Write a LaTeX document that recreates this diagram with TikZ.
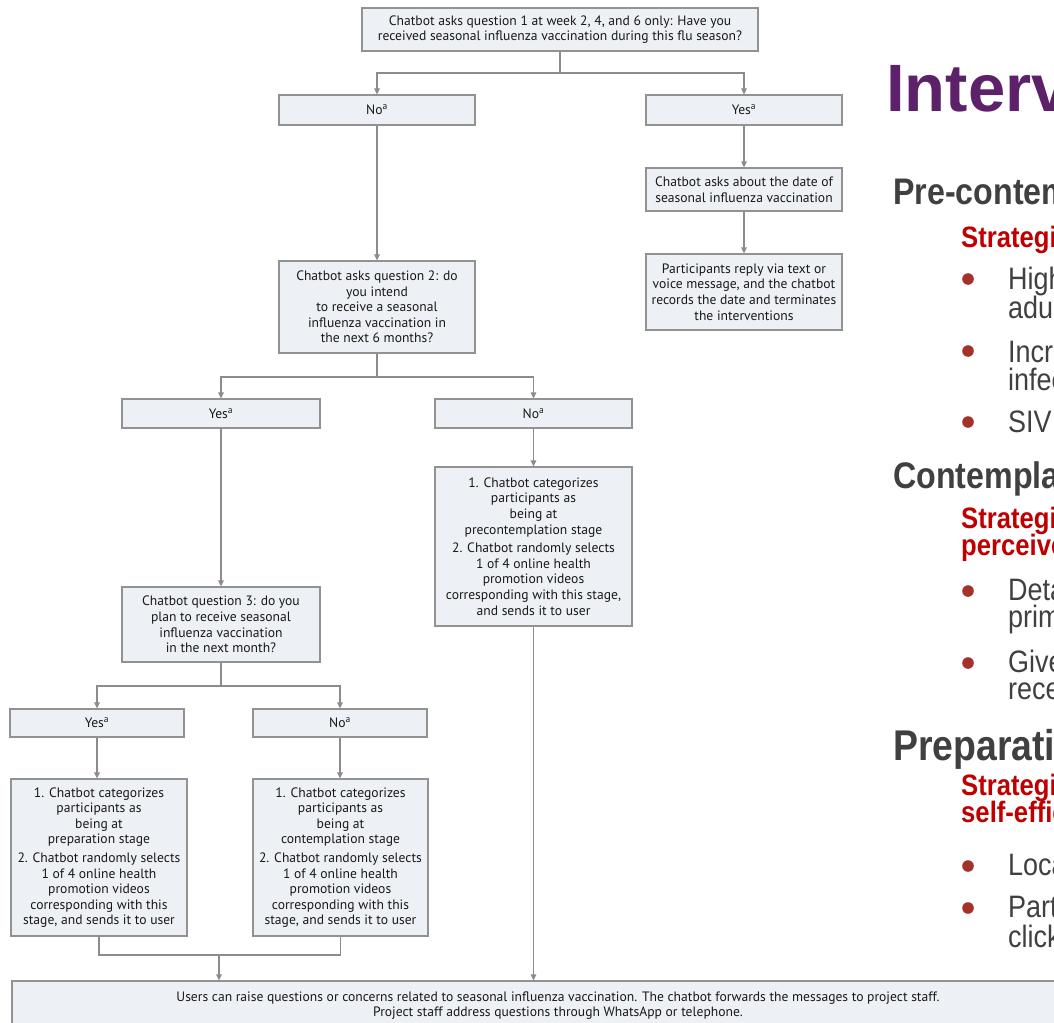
\documentclass[tikz,border=0pt]{standalone}
\usepackage{fontspec}
\setmainfont{PT Sans}
\newfontfamily\slidefont[FakeStretch=0.87]{Liberation Sans}
\newfontfamily\titlefont{Liberation Sans}
\usetikzlibrary{arrows.meta}
\definecolor{boxfill}{HTML}{EDF1F5}
\definecolor{boxline}{HTML}{929292}
\definecolor{conncol}{HTML}{8C8C8C}
\definecolor{txt}{HTML}{1A1818}
\definecolor{slidegrey}{HTML}{404040}
\definecolor{slidered}{HTML}{C00000}
\definecolor{slidepurple}{HTML}{5D2169}
\definecolor{bulletc}{HTML}{A3322A}
\tikzset{
  fbox/.style={draw=boxline, fill=boxfill, line width=1.2pt, align=center, inner sep=0pt,
    text=txt, font=\fontsize{13.6}{15.6}\selectfont},
  conn/.style={draw=conncol, line width=1.2pt},
  arr/.style={conn, -{Triangle[length=6pt,width=5.5pt]}},
  stitle/.style={anchor=base west, inner sep=0pt, text=slidegrey, font=\slidefont\bfseries\fontsize{37}{40}\selectfont},
  sred/.style={anchor=base west, inner sep=0pt, text=slidered, font=\slidefont\bfseries\fontsize{29.5}{31}\selectfont},
  sbody/.style={anchor=base west, inner sep=0pt, text=slidegrey, font=\slidefont\fontsize{31}{33}\selectfont},
}
\begin{document}
\begin{tikzpicture}[x=1pt,y=-1pt]
\useasboundingbox (0,0) rectangle (1054,1022);
\fill[white] (0,0) rectangle (1054,1022);

% ---- flowchart boxes
\node[fbox, minimum width=396pt, minimum height=43pt] (q1) at (560,29.5)
  {Chatbot asks question 1 at week 2, 4, and 6 only: Have you\\received seasonal influenza vaccination during this flu season?};
\node[fbox, minimum width=196pt, minimum height=30pt] (no1) at (377,110) {No\textsuperscript{a}};
\node[fbox, minimum width=196pt, minimum height=30pt] (yes1) at (744,110) {Yes\textsuperscript{a}};
\node[fbox, minimum width=196pt, minimum height=43pt] (date) at (744,189.5)
  {Chatbot asks about the date of\\seasonal influenza vaccination};
\node[fbox, minimum width=196pt, minimum height=76pt] (reply) at (744,292)
  {Participants reply via text or\\voice message, and the chatbot\\records the date and terminates\\the interventions};
\node[fbox, minimum width=196pt, minimum height=92pt] (q2) at (377,307)
  {Chatbot asks question 2: do\\you intend\\to receive a seasonal\\influenza vaccination in\\the next 6 months?};
\node[fbox, minimum width=198pt, minimum height=29pt] (yes2) at (221,413.5) {Yes\textsuperscript{a}};
\node[fbox, minimum width=197pt, minimum height=29pt] (no2) at (533.5,413.5) {No\textsuperscript{a}};
\node[fbox, minimum width=197pt, minimum height=159pt] (pre) at (533.5,546.5)
  {1. Chatbot categorizes\\participants as\\being at\\precontemplation stage\\[3pt]2. Chatbot randomly selects\\1 of 4 online health\\promotion videos\\corresponding with this stage,\\and sends it to user};
\node[fbox, minimum width=198pt, minimum height=75pt] (q3) at (221,624.5)
  {Chatbot question 3: do you\\plan to receive seasonal\\influenza vaccination\\in the next month?};
\node[fbox, minimum width=174pt, minimum height=28pt] (yes3) at (97,723) {Yes\textsuperscript{a}};
\node[fbox, minimum width=174pt, minimum height=28pt] (no3) at (340,723) {No\textsuperscript{a}};
\node[fbox, minimum width=176pt, minimum height=157pt] (prep) at (99,857.5)
  {1. Chatbot categorizes\\participants as\\being at\\preparation stage\\[3pt]2. Chatbot randomly selects\\1 of 4 online health\\promotion videos\\corresponding with this\\stage, and sends it to user};
\node[fbox, minimum width=175pt, minimum height=157pt] (cont) at (340.5,857.5)
  {1. Chatbot categorizes\\participants as\\being at\\contemplation stage\\[3pt]2. Chatbot randomly selects\\1 of 4 online health\\promotion videos\\corresponding with this\\stage, and sends it to user};
\node[fbox, minimum width=1092pt, minimum height=49pt] (bot) at (558,1005.5)
  {Users can raise questions or concerns related to seasonal influenza vaccination. The chatbot forwards the messages to project staff.\\Project staff address questions through WhatsApp or telephone.};

% ---- connectors
\coordinate (j1) at (560,73);
\coordinate (j2) at (377,377);
\coordinate (j3) at (221,686);
\coordinate (j4) at (219,955);
\draw[conn] (q1.south) -- (j1);
\draw[arr] (j1) -| (no1.north);
\draw[arr] (j1) -| (yes1.north);
\draw[arr] (yes1.south) -- (date.north);
\draw[arr] (date.south) -- (reply.north);
\draw[arr] (no1.south) -- (q2.north);
\draw[conn] (q2.south) -- (j2);
\draw[arr] (j2) -| (yes2.north);
\draw[arr] (j2) -| (no2.north);
\draw[arr] (no2.south) -- (pre.north);
\draw[arr] (yes2.south) -- (q3.north);
\draw[conn] (q3.south) -- (j3);
\draw[arr] (j3) -| (yes3.north);
\draw[arr] (j3) -| (no3.north);
\draw[arr] (yes3.south) -- (yes3.south |- prep.north);
\draw[arr] (no3.south) -- (no3.south |- cont.north);
\draw[conn] (prep.south) |- (j4) -| (cont.south);
\draw[arr] (j4) -- (j4 |- bot.north);
\draw[arr] (pre.south) -- (pre.south |- bot.north);

% ---- slide text on the right
\begin{scope}
\clip (860,0) rectangle (1054,975);
\node[anchor=base west, inner sep=0pt, text=slidepurple, font=\titlefont\bfseries\fontsize{67}{70}\selectfont] (t0) at (886,112) {Interventions};
\node[stitle] (t1) at (893,204) {Pre-contemplation};
\node[sred] (t2) at (961,247) {Strategies};
\fill[bulletc] (968,279) circle (5.8pt);
\node[sbody] (t3) at (1008,289) {Highlight};
\node[sbody] (t4) at (1008,318) {adults};
\fill[bulletc] (968,351) circle (5.8pt);
\node[sbody] (t5) at (1008,362) {Increase};
\node[sbody] (t6) at (1008,390) {infection};
\fill[bulletc] (968,422) circle (5.8pt);
\node[sbody] (t7) at (1008,432) {SIV};
\node[stitle] (t8) at (893,488) {Contemplation};
\node[sred] (t9) at (961,528) {Strategies};
\node[sred] (t10) at (961,555) {perceived};
\fill[bulletc] (968,591) circle (5.8pt);
\node[sbody] (t11) at (1008,600) {Details};
\node[sbody] (t12) at (1008,627) {primary};
\fill[bulletc] (968,663) circle (5.8pt);
\node[sbody] (t13) at (1008,672) {Given};
\node[sbody] (t14) at (1008,699) {receive};
\node[stitle, font=\slidefont\bfseries\fontsize{43}{45}\selectfont] (t15) at (893,760) {Preparation};
\node[sred] (t16) at (961,795) {Strategies};
\node[sred] (t17) at (961,822) {self-efficacy};
\fill[bulletc] (968,866) circle (5.8pt);
\node[sbody] (t18) at (1008,875) {Local};
\fill[bulletc] (968,908) circle (5.8pt);
\node[sbody] (t19) at (1008,917) {Participants};
\node[sbody] (t20) at (1008,947) {click};
\end{scope}
\end{tikzpicture}
\end{document}
